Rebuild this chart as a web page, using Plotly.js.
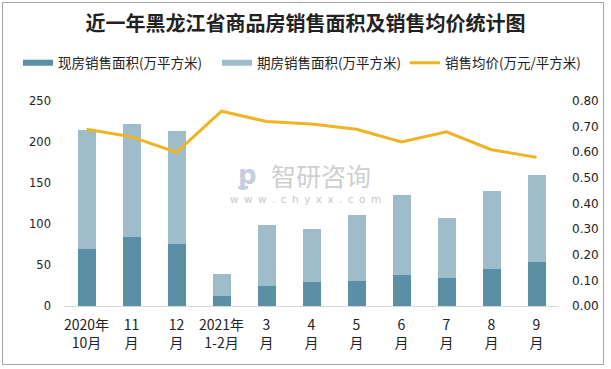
<!DOCTYPE html>
<html><head><meta charset="utf-8">
<script src="https://cdn.plot.ly/plotly-3.0.1.min.js"></script>
<style>
html,body{margin:0;padding:0;background:#fff;}
#wrap{position:absolute;left:2px;top:2px;width:602px;height:363px;border:1px solid #a6a6a6;box-sizing:border-box;}
#chart{position:absolute;left:0;top:0;width:611px;height:369px;}
</style></head>
<body>
<div id="wrap"></div>
<div id="chart"></div>
<script>
const categories = ["2020年<br>10月","11<br>月","12<br>月","2021年<br>1-2月","3<br>月","4<br>月","5<br>月","6<br>月","7<br>月","8<br>月","9<br>月"];
const spotArea = [70, 84, 76, 12, 24, 29, 31, 38, 34, 45, 54];
const futuresArea = [145, 138, 137, 27, 75, 65, 80, 97, 73, 95, 106];
const avgPrice = [0.69, 0.66, 0.60, 0.76, 0.72, 0.71, 0.69, 0.64, 0.68, 0.61, 0.58];
const leftTicks = [0, 50, 100, 150, 200, 250];
const rightTicks = [0, 0.1, 0.2, 0.3, 0.4, 0.5, 0.6, 0.7, 0.8];
const seriesNames = ['现房销售面积(万平方米)', '期房销售面积(万平方米)', '销售均价(万元/平方米)'];
const seriesColors = ['#5b8fa6', '#9fbccb', '#f0b323'];

const cjk = '"Noto Sans CJK SC", "Noto Sans", sans-serif';
const legFont = {family:cjk, size:13.5, color:'#222'};
const legBase = {orientation:'h', xanchor:'left', y:1.185, yanchor:'middle', font:legFont, bgcolor:'rgba(0,0,0,0)'};
const traces = [
  {type:'bar', name:seriesNames[0], x:categories, y:spotArea, marker:{color:seriesColors[0]}, yaxis:'y', showlegend:false},
  {type:'bar', name:seriesNames[1], x:categories, y:futuresArea, marker:{color:seriesColors[1]}, yaxis:'y', showlegend:false},
  {type:'scatter', mode:'lines', name:seriesNames[2], x:categories, y:avgPrice, yaxis:'y2', line:{color:seriesColors[2], width:3}, legend:'legend3'},
  // legend keys for the bar series drawn as wide rectangles like the reference
  {type:'scatter', mode:'lines', name:seriesNames[0], x:[null], y:[null], line:{color:seriesColors[0], width:6}, legend:'legend', hoverinfo:'skip'},
  {type:'scatter', mode:'lines', name:seriesNames[1], x:[null], y:[null], line:{color:seriesColors[1], width:6}, legend:'legend2', hoverinfo:'skip'}
];
const layout = {
  width:611, height:369,
  margin:{l:64, r:52, t:101, b:63},
  paper_bgcolor:'rgba(0,0,0,0)', plot_bgcolor:'rgba(0,0,0,0)',
  barmode:'stack', bargap:0.6,
  title:{text:'<b>近一年黑龙江省商品房销售面积及销售均价统计图</b>', font:{family:cjk, size:20, color:'#222'}, x:0.5, xanchor:'center', y:0.935, yanchor:'middle'},
  showlegend:true,
  legend:Object.assign({}, legBase, {x:(18-64)/495}),
  legend2:Object.assign({}, legBase, {x:(217-64)/495}),
  legend3:Object.assign({}, legBase, {x:(405-64)/495}),
  xaxis:{type:'category', showline:true, linecolor:'#d9d9d9', linewidth:1, ticks:'', showgrid:false, zeroline:false, tickfont:{family:cjk, size:14, color:'#222'}, ticklabelstandoff:6},
  yaxis:{range:[0,250], tickvals:leftTicks, showgrid:false, zeroline:false, showline:false, ticks:'', tickfont:{family:'"DejaVu Sans", sans-serif', size:11.5, color:'#222'}, ticklabelstandoff:12},
  yaxis2:{range:[0,0.8], tickvals:rightTicks, tickformat:'.2f', overlaying:'y', side:'right', showgrid:false, zeroline:false, showline:false, ticks:'', tickfont:{family:'"DejaVu Sans", sans-serif', size:12, color:'#222'}, ticklabelstandoff:12},
  annotations:[
    {text:'智研咨询', xref:'paper', yref:'paper', x:0.519, y:0.64, showarrow:false, font:{family:cjk, size:25, color:'#cfcfcf'}},
    {text:'w\u00a0\u2009w\u00a0\u2009w\u00a0\u2009.\u00a0\u2009c\u00a0\u2009h\u00a0\u2009y\u00a0\u2009x\u00a0\u2009x\u00a0\u2009.\u00a0\u2009c\u00a0\u2009o\u00a0\u2009m', xref:'paper', yref:'paper', x:0.487, y:0.52, showarrow:false, font:{family:'"DejaVu Sans", sans-serif', size:10.5, color:'#c8c8c8'}},
    {text:'<b>ꝑ</b>', xref:'paper', yref:'paper', x:0.37, y:0.64, showarrow:false, font:{family:'"DejaVu Sans", sans-serif', size:26, color:'#c5cde0'}}
  ]
};
Plotly.newPlot('chart', traces, layout, {displayModeBar:false, staticPlot:true});
</script>
</body></html>
